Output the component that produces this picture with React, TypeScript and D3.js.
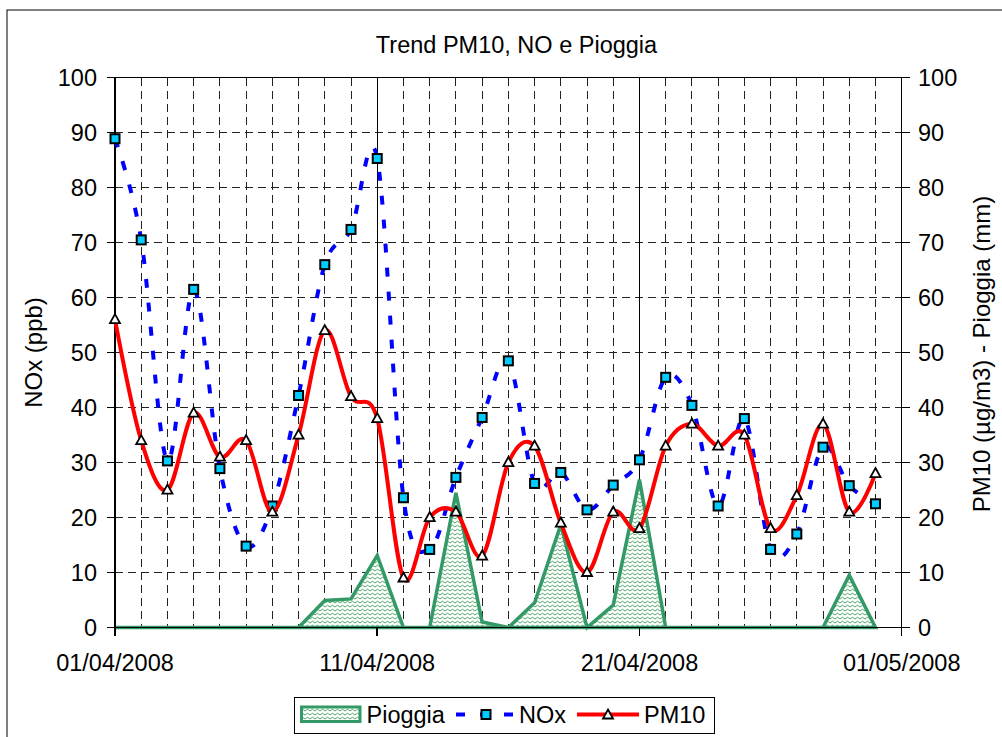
import React from "react";
import * as d3 from "d3";

const dates = [
  "2008-04-01","2008-04-02","2008-04-03","2008-04-04","2008-04-05","2008-04-06",
  "2008-04-07","2008-04-08","2008-04-09","2008-04-10","2008-04-11","2008-04-12",
  "2008-04-13","2008-04-14","2008-04-15","2008-04-16","2008-04-17","2008-04-18",
  "2008-04-19","2008-04-20","2008-04-21","2008-04-22","2008-04-23","2008-04-24",
  "2008-04-25","2008-04-26","2008-04-27","2008-04-28","2008-04-29","2008-04-30",
];
const pioggia = [0,0,0,0,0,0,0,0,4.9,5.2,13.1,0,0,24.5,1.0,0,4.5,18.7,0,4.1,26.9,0,0,0,0,0,0,0,9.5,0];
const nox = [88.9,70.5,30.3,61.5,28.9,14.8,22.1,42.2,66.0,72.4,85.3,23.6,14.2,27.3,38.2,48.5,26.2,28.2,21.4,25.9,30.5,45.5,40.4,22.1,38.0,14.2,17.0,32.8,25.8,22.5];
const pm10 = [56,34,25,39,31,34,21,35,54,42,38,9,20,21,13,30,33,19,10,21,18,33,37,33,35,18,24,37,21,28];
const dateDomain = ["2008-04-01", "2008-05-01"];
const dateTicks = ["2008-04-01", "2008-04-11", "2008-04-21", "2008-05-01"];
const yTicks = [0, 10, 20, 30, 40, 50, 60, 70, 80, 90, 100];

const FONT = "'Liberation Sans', Arial, sans-serif";
const GREEN = "#339966";

export default function App() {
  const parse = (s: string) => new Date(s + "T00:00:00Z");
  const x = d3.scaleUtc().domain(dateDomain.map(parse)).range([115, 901.7]);
  const y = d3.scaleLinear().domain([0, 100]).range([627.5, 77.7]);
  const y2 = d3.scaleLinear().domain([0, 100]).range([627.5, 77.7]);
  const fmt = d3.utcFormat("%d/%m/%Y");
  const [x0, x1] = x.range();
  const [yb, yt] = y.range();

  const days = d3.utcDay.range(parse(dateDomain[0]), parse(dateDomain[1]));
  const majorSet = new Set(dateTicks);
  const dayKey = d3.utcFormat("%Y-%m-%d");

  const rows = dates.map((d, i) => ({ t: parse(d), p: pioggia[i], n: nox[i], m: pm10[i] }));

  const area = d3.area<any>().x((d) => x(d.t)).y0(y2(0)).y1((d) => y2(d.p));
  const areaPath = area(rows) + "";
  const lineN = d3.line<any>().x((d) => x(d.t)).y((d) => y(d.n)).curve(d3.curveCardinal.tension(0));
  const lineM = d3.line<any>().x((d) => x(d.t)).y((d) => y2(d.m)).curve(d3.curveCardinal.tension(0));

  const tri = "M0,-5.5 L5,3.5 L-5,3.5 Z";

  return (
    <svg width={1002} height={737} style={{ position: "absolute", left: 0, top: 0, background: "#fff" }}>
      <defs>
        <pattern id="wave" width={5} height={4} patternUnits="userSpaceOnUse">
          <rect width={5} height={4} fill="#fff" />
          <path d="M0,3 L2.5,1.2 L5,3" fill="none" stroke="#3a9d55" strokeWidth={0.9} />
        </pattern>
      </defs>
      <rect x={7} y={10} width={1010} height={740} fill="#fff" stroke="#000" strokeWidth={1} />

      <text x={516.5} y={53} textAnchor="middle" fontFamily={FONT} fontSize={23.5} fill="#000">
        Trend PM10, NO e Pioggia
      </text>

      {/* horizontal grid */}
      {yTicks.filter((v) => v > 0 && v < 100).map((v) => (
        <line key={"h" + v} x1={x0} x2={x1} y1={y(v)} y2={y(v)} stroke="#222" strokeWidth={1}
          strokeDasharray="8,5" shapeRendering="crispEdges" />
      ))}
      {/* vertical grid */}
      {days.slice(1).map((d) => {
        const major = majorSet.has(dayKey(d));
        return (
          <line key={"v" + dayKey(d)} x1={x(d)} x2={x(d)} y1={yt} y2={yb} stroke={major ? "#000" : "#222"}
            strokeWidth={1} strokeDasharray={major ? undefined : "8,5"} shapeRendering="crispEdges" />
        );
      })}

      {/* Pioggia area */}
      <path d={areaPath} fill="url(#wave)" stroke={GREEN} strokeWidth={3.5} strokeLinejoin="miter" />

      {/* plot frame / axes */}
      <line x1={x0} x2={x1} y1={yt} y2={yt} stroke="#000" strokeWidth={1.2} shapeRendering="crispEdges" />
      <line x1={x0} x2={x1} y1={yb} y2={yb} stroke="#000" strokeWidth={1.5} shapeRendering="crispEdges" />
      <line x1={x0} x2={x0} y1={yt} y2={yb + 8} stroke="#000" strokeWidth={1.5} shapeRendering="crispEdges" />
      <line x1={x1} x2={x1} y1={yt} y2={yb + 8} stroke="#000" strokeWidth={1.5} shapeRendering="crispEdges" />

      {/* left axis */}
      {yTicks.map((v) => (
        <g key={"l" + v}>
          <line x1={x0 - 8} x2={x0} y1={y(v)} y2={y(v)} stroke="#000" strokeWidth={1.2} shapeRendering="crispEdges" />
          <text x={97} y={y(v) + 8.3} textAnchor="end" fontFamily={FONT} fontSize={23.5} fill="#000">{v}</text>
        </g>
      ))}
      {/* right axis */}
      {yTicks.map((v) => (
        <g key={"r" + v}>
          <line x1={x1} x2={x1 + 8} y1={y2(v)} y2={y2(v)} stroke="#000" strokeWidth={1.2} shapeRendering="crispEdges" />
          <text x={918} y={y2(v) + 8.3} textAnchor="start" fontFamily={FONT} fontSize={23.5} fill="#000">{v}</text>
        </g>
      ))}
      {/* bottom axis */}
      {dateTicks.map((s) => {
        const t = parse(s);
        return (
          <g key={"b" + s}>
            <line x1={x(t)} x2={x(t)} y1={yb} y2={yb + 8} stroke="#000" strokeWidth={1.5} shapeRendering="crispEdges" />
            <text x={x(t)} y={671} textAnchor="middle" fontFamily={FONT} fontSize={23.5} fill="#000">{fmt(t)}</text>
          </g>
        );
      })}

      <text transform="translate(42,352.5) rotate(-90)" textAnchor="middle" fontFamily={FONT} fontSize={24} fill="#000">
        NOx (ppb)
      </text>
      <text transform="translate(990,354) rotate(-90)" textAnchor="middle" fontFamily={FONT} fontSize={24} fill="#000">
        PM10 (µg/m3) - Pioggia (mm)
      </text>

      {/* NOx */}
      <path d={lineN(rows) + ""} fill="none" stroke="#0000ff" strokeWidth={4} strokeDasharray="9,15" />
      {rows.map((d, i) => (
        <rect key={"n" + i} x={x(d.t) - 4.5} y={y(d.n) - 4.5} width={9} height={9} fill="#00ccff" stroke="#000" strokeWidth={2} />
      ))}

      {/* PM10 */}
      <path d={lineM(rows) + ""} fill="none" stroke="#ff0000" strokeWidth={4} />
      {rows.map((d, i) => (
        <path key={"m" + i} d={tri} transform={`translate(${x(d.t)},${y2(d.m)})`} fill="#fff" stroke="#000" strokeWidth={1.8} />
      ))}

      {/* legend */}
      <rect x={294} y={697} width={420} height={36} fill="#fff" stroke="#000" strokeWidth={1} shapeRendering="crispEdges" />
      <rect x={301.5} y={707} width={58.5} height={14.5} fill="url(#wave)" stroke={GREEN} strokeWidth={3} />
      <text x={366.5} y={723} fontFamily={FONT} fontSize={23.5} fill="#000">Pioggia</text>
      <line x1={456} x2={513} y1={714.5} y2={714.5} stroke="#0000ff" strokeWidth={4} strokeDasharray="9,15" />
      <rect x={481.5} y={710} width={9} height={9} fill="#00ccff" stroke="#000" strokeWidth={2} />
      <text x={519} y={723} fontFamily={FONT} fontSize={23.5} fill="#000">NOx</text>
      <line x1={577} x2={639} y1={714.5} y2={714.5} stroke="#ff0000" strokeWidth={4} />
      <path d={tri} transform="translate(608,715)" fill="#fff" stroke="#000" strokeWidth={1.8} />
      <text x={644} y={723} fontFamily={FONT} fontSize={23.5} fill="#000">PM10</text>
    </svg>
  );
}
